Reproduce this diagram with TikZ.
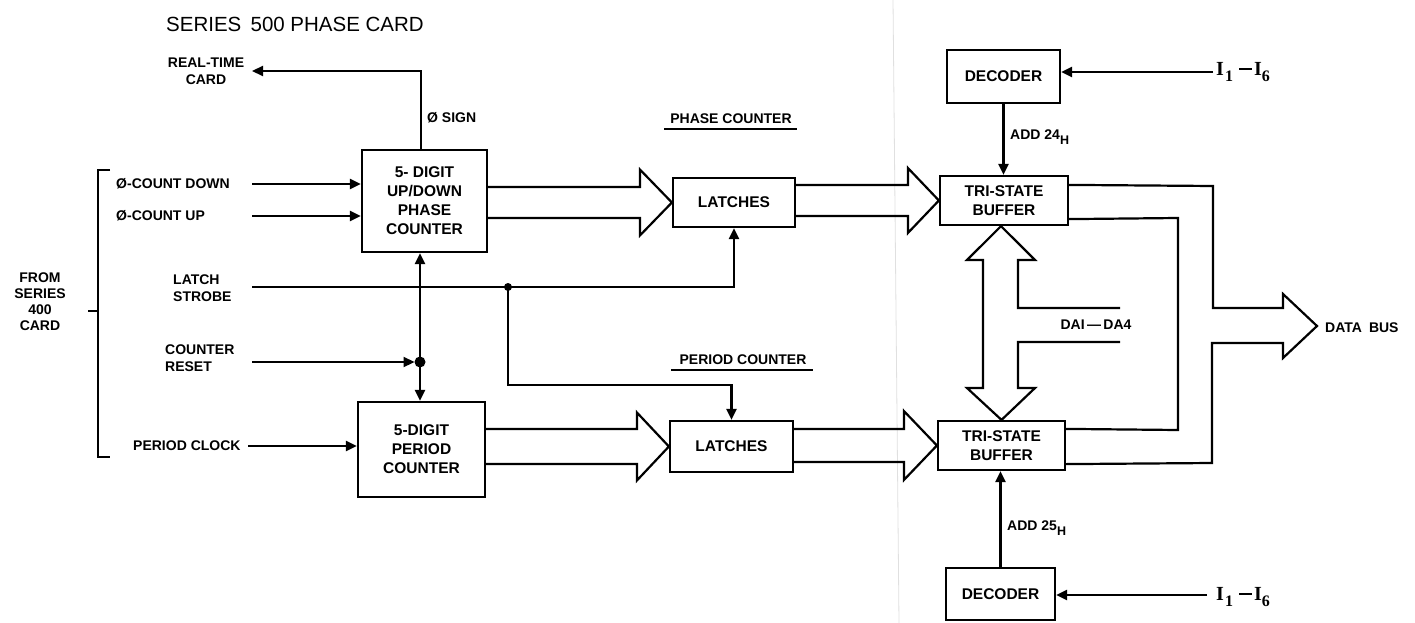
\documentclass[tikz,border=0pt]{standalone}
\usepackage{fontspec}
\setmainfont{Liberation Sans}
\newfontfamily\serI{Liberation Serif}
\usetikzlibrary{arrows.meta,calc}
\tikzset{
 ln/.style={line width=2.2pt},
 sig/.style={ln, -{Triangle[length=11pt,width=10pt]}},
 blk/.style={draw, ln, align=center, inner sep=0pt, font=\bfseries\fontsize{15.5}{19}\selectfont},
 lbl/.style={inner sep=0pt, font=\bfseries\fontsize{14}{17}\selectfont},
 bus/.style={ln, line join=miter},
}
\newcommand\fatarr[5]{\draw[bus] let \p1=(#1), \p2=(#2) in (\x1,{\y2+#3}) -- ({\x2-#4},{\y2+#3}) -- ({\x2-#4},{\y2+#5}) -- (\p2) -- ({\x2-#4},{\y2-#5}) -- ({\x2-#4},{\y2-#3}) -- (\x1,{\y2-#3});}
\newcommand\subH{\raisebox{-4.5pt}{\fontsize{12.5}{12}\selectfont H}}
\newcommand\subI[1]{\raisebox{-6pt}{\fontsize{16}{16}\selectfont #1}}
\newcommand\Irange{I\hspace{1pt}\subI{1}\hspace{6pt}\rule[5.5pt]{13pt}{2pt}\hspace{2pt}I\subI{6}}
\begin{document}
\begin{tikzpicture}[x=1pt,y=-1pt]
\fill[white] (0,0) rectangle (1415,623);
\useasboundingbox (0,0) rectangle (1415,623);
% faint fold of the scanned page
\draw[black!12, line width=0.8pt] (893,0) -- (899,623);

% title
\node[inner sep=0pt, font=\fontsize{20.5}{24}\selectfont] (title) at (295,24) {SERIES\hspace{0.45em}500 PHASE CARD};

% blocks
\node[blk, minimum width=125pt, minimum height=102pt] (pc) at (424.5,201) {5- DIGIT\\UP/DOWN\\PHASE\\COUNTER};
\node[blk, minimum width=127pt, minimum height=95pt] (per) at (421.5,449.5) {5-DIGIT\\PERIOD\\COUNTER};
\node[blk, minimum width=122pt, minimum height=49pt] (l1) at (734,202.5) {LATCHES};
\node[blk, minimum width=123pt, minimum height=51pt] (l2) at (731.5,446.5) {LATCHES};
\node[blk, minimum width=128pt, minimum height=49pt] (t1) at (1004,200.5) {TRI-STATE\\BUFFER};
\node[blk, minimum width=127pt, minimum height=49pt] (t2) at (1001.5,445.5) {TRI-STATE\\BUFFER};
\node[blk, minimum width=113pt, minimum height=53pt] (d1) at (1003.5,76.5) {DECODER};
\node[blk, minimum width=109pt, minimum height=52pt] (d2) at (1000.5,594) {DECODER};

% left labels
\node[lbl, align=center] (rt) at (206,71) {REAL-TIME\\CARD};
\node[lbl, anchor=west] (sign) at (427,118) {Ø SIGN};
\node[lbl, anchor=west] (cdl) at (116,184) {Ø-COUNT DOWN};
\node[lbl, anchor=west] (cul) at (116,216) {Ø-COUNT UP};
\node[lbl, align=left, anchor=west] (lsl) at (173,288) {LATCH\\STROBE};
\node[lbl, align=left, anchor=west] (crl) at (165,358) {COUNTER\\RESET};
\node[lbl, anchor=west] (pcl) at (133,446) {PERIOD CLOCK};
\node[lbl, align=center, font=\bfseries\fontsize{14}{16}\selectfont] (from) at (40,302) {FROM\\SERIES\\400\\CARD};

% bracket
\draw[ln] (110,170) -- (98,170) -- (98,457) -- (110,457);
\draw[ln] (98,311) -- (88,311);

% input signals
\coordinate (sgn) at (421,71);
\coordinate (rtE) at (252,71);
\draw[sig] (pc.north -| sgn) -- (sgn) -- (rtE);
\coordinate (cdS) at (252,184);
\coordinate (cuS) at (252,216);
\draw[sig] (cdS) -- (cdS -| pc.west);
\draw[sig] (cuS) -- (cuS -| pc.west);
\coordinate (lsS) at (252,287);
\coordinate (dotS) at (508,287);
\coordinate (stb) at (508,385);
\draw[sig] (lsS) -| (l1.south);
\draw[sig] (dotS) -- (stb) -| (l2.north);
\fill (dotS) circle (4);
\coordinate (rDot) at (420,362);
\draw[sig] (rDot) -- (rDot |- pc.south);
\draw[sig] (rDot) -- (rDot |- per.north);
\fill (rDot) circle (5.5);
\coordinate (crS) at (252,362);
\draw[sig] (crS) -- ($(rDot)+(-5.5,0)$);
\coordinate (pclS) at (248,446);
\draw[sig] (pclS) -- (pclS -| per.west);

% section labels
\node[lbl, font=\bfseries\fontsize{14}{17}\selectfont] (phl) at (731,119) {PHASE COUNTER};
\draw[ln] ($(phl.south west)+(-6,5)$) -- ($(phl.south east)+(5,5)$);
\node[lbl, font=\bfseries\fontsize{14}{17}\selectfont] (prl) at (743,360) {PERIOD COUNTER};
\draw[ln] ($(prl.south west)+(-8,5)$) -- ($(prl.south east)+(6,5)$);

% fat bus arrows
\fatarr{pc.east}{l1.west}{15.5pt}{32pt}{33pt}
\fatarr{l1.east}{t1.west}{15.5pt}{31pt}{32.5pt}
\fatarr{per.east}{l2.west}{17.5pt}{32pt}{34pt}
\fatarr{l2.east}{t2.west}{16.5pt}{33pt}{34.5pt}

% decoders
\coordinate (i1) at (1213,72);
\draw[sig] (i1) -- (i1 -| d1.east);
\node[lbl, anchor=west, font=\serI\bfseries\fontsize{20}{20}\selectfont] (i1l) at (1216,72) {\Irange};
\draw[sig] (d1.south) -- (d1.south |- t1.north);
\node[lbl, anchor=west] (a24) at (1010,137) {ADD 24\subH};
\coordinate (i2) at (1207,595);
\draw[sig] (i2) -- (i2 -| d2.east);
\node[lbl, anchor=west, font=\serI\bfseries\fontsize{20}{20}\selectfont] (i2l) at (1216,597) {\Irange};
\draw[sig] (d2.north) -- (d2.north |- t2.south);
\node[lbl, anchor=west] (a25) at (1007,528) {ADD 25\subH};

% bidirectional DA bus
\draw[bus] ($(t1.south)+(-3,0)$) -- (967,260) -- (983,260) -- (983,388) -- (967,388) -- (t2.north) -- (1035,388) -- (1018,388) -- (1018,342) -- (1120,342);
\draw[bus] (1120,308) -- (1018,308) -- (1018,260) -- (1035,260) -- ($(t1.south)+(-3,0)$);
\node[lbl] (dal) at (1096,325) {DAI\,—\,DA4};

% data bus
\coordinate (dbTip) at (1317,326);
\draw[bus] ($(t1.north east)+(0,10)$) -- (1213,186) -- (1213,308) -- (1283,308) -- (1283,294) -- (dbTip) -- (1283,358) -- (1283,343) -- (1212,343) -- (1212,463) -- ($(t2.south east)+(0,-7)$);
\draw[bus] ($(t1.south east)+(0,-7)$) -- (1178,218) -- (1178,430) -- ($(t2.north east)+(0,9)$);
\node[lbl, anchor=west] (dbl) at (1325,328) {DATA\hspace{0.5em}BUS};
\end{tikzpicture}
\end{document}
